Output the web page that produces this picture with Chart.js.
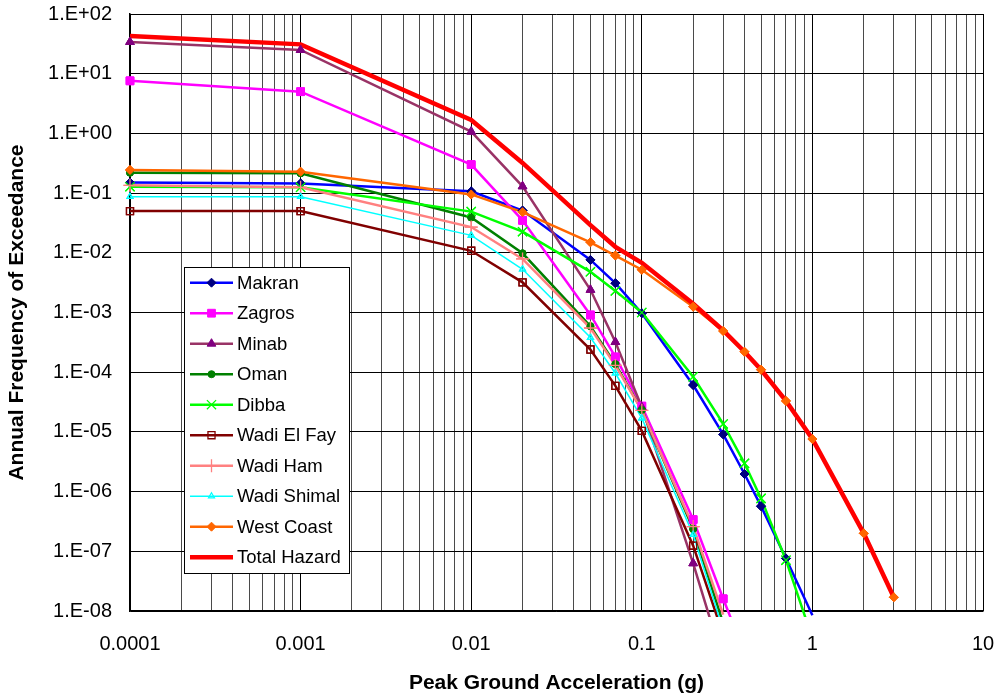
<!DOCTYPE html>
<html>
<head>
<meta charset="utf-8">
<script src="https://cdn.jsdelivr.net/npm/chart.js@4/dist/chart.umd.min.js"></script>
<style>
html,body{margin:0;padding:0;background:#fff;}
#wrap{width:1000px;height:698px;}
</style>
</head>
<body>
<div id="wrap"><canvas id="c" width="1000" height="698"></canvas></div>
<script>
// ---- data ----
const pga = [0.0001, 0.001, 0.01, 0.02, 0.05, 0.07, 0.1, 0.2, 0.3, 0.4, 0.5, 0.7, 1, 2, 3];
const seriesNames = ['Makran','Zagros','Minab','Oman','Dibba','Wadi El Fay','Wadi Ham','Wadi Shimal','West Coast','Total Hazard'];
const makran     = [0.15, 0.145, 0.107, 0.051, 0.0076, 0.0031, 9.7e-4, 6.1e-5, 9.1e-6, 1.97e-6, 5.7e-7, 7.6e-8, 8.5e-9];
const zagros     = [7.6, 5.0, 0.30, 0.035, 9.1e-4, 1.8e-4, 2.7e-5, 3.4e-7, 1.6e-8, 2e-9];
const minab      = [34, 25, 1.07, 0.13, 0.0024, 3.2e-4, 2.6e-5, 6.3e-8, 1.4e-9];
const oman       = [0.22, 0.215, 0.039, 0.0098, 5.9e-4, 1.37e-4, 2.33e-5, 2.36e-7, 6.2e-9];
const dibba      = [0.128, 0.125, 0.049, 0.0226, 0.0048, 0.0023, 0.001, 8.4e-5, 1.36e-5, 2.97e-6, 7.7e-7, 7.1e-8, 3.5e-9];
const wadiElFay  = [0.05, 0.05, 0.0108, 0.0032, 2.4e-4, 5.9e-5, 1.04e-5, 1.24e-7, 4e-9];
const wadiHam    = [0.135, 0.125, 0.027, 0.0079, 5.5e-4, 1.3e-4, 2.3e-5, 2.6e-7, 8.7e-9];
const wadiShimal = [0.087, 0.087, 0.0196, 0.0053, 3.8e-4, 9.6e-5, 1.7e-5, 1.9e-7, 4.8e-9];
const westCoast  = [0.244, 0.228, 0.095, 0.048, 0.015, 0.009, 0.0052, 0.00125, 4.9e-4, 2.2e-4, 1.1e-4, 3.3e-5, 7.6e-6, 2.0e-7, 1.7e-8];
const totalHazard= [43, 31, 1.68, 0.32, 0.029, 0.0126, 0.0068, 0.0014, 5.0e-4, 2.2e-4, 1.1e-4, 3.3e-5, 7.6e-6, 2.0e-7, 1.7e-8];
const xTickValues = [0.0001, 0.001, 0.01, 0.1, 1, 10];
const xTickLabels = ['0.0001', '0.001', '0.01', '0.1', '1', '10'];
const yTickValues = [1e-8, 1e-7, 1e-6, 1e-5, 1e-4, 1e-3, 1e-2, 1e-1, 1e0, 1e1, 1e2];
const yTickLabels = ['1.E-08','1.E-07','1.E-06','1.E-05','1.E-04','1.E-03','1.E-02','1.E-01','1.E+00','1.E+01','1.E+02'];

// ---- styles ----
const allValues = [makran, zagros, minab, oman, dibba, wadiElFay, wadiHam, wadiShimal, westCoast, totalHazard];
const styles = [
  {line:'#0000FF', w:2.5, ps:'rectRot', r:4.5, fill:'#000080', stroke:'#000080', bw:1},
  {line:'#FF00FF', w:2.5, ps:'rect', r:5.5, fill:'#FF00FF', stroke:'#FF00FF', bw:1},
  {line:'#993366', w:2.5, ps:'triangle', r:5, fill:'#800080', stroke:'#800080', bw:1},
  {line:'#008000', w:2.5, ps:'circle', r:3.5, fill:'#008000', stroke:'#008000', bw:1},
  {line:'#00FF00', w:2.5, ps:'crossRot', r:6.5, fill:'#00FF00', stroke:'#00FF00', bw:1.2},
  {line:'#800000', w:2.5, ps:'rect', r:5, fill:'rgba(255,255,255,0)', stroke:'#800000', bw:1.3},
  {line:'#FF8080', w:2.5, ps:'cross', r:6.5, fill:'#FF8080', stroke:'#FF8080', bw:1.3},
  {line:'#00FFFF', w:1.5, ps:'triangle', r:3.5, fill:'rgba(255,255,255,0)', stroke:'#00FFFF', bw:1.2},
  {line:'#FF6600', w:2.5, ps:'rectRot', r:4.5, fill:'#FF6600', stroke:'#FF6600', bw:1},
  {line:'#FF0000', w:4.5, ps:false, r:0, fill:'#FF0000', stroke:'#FF0000', bw:0}
];

const datasets = allValues.map((vals, i) => {
  const st = styles[i];
  return {
    label: seriesNames[i],
    data: vals.map((v, j) => ({x: pga[j], y: v})),
    borderColor: st.line,
    borderWidth: st.w,
    backgroundColor: st.fill,
    pointStyle: st.ps,
    pointRadius: (ctx) => (!st.ps || (ctx.raw && ctx.raw.y < 1e-8)) ? 0 : st.r,
    pointHoverRadius: 0,
    pointBackgroundColor: st.fill,
    pointBorderColor: st.stroke,
    pointBorderWidth: st.bw,
    tension: 0,
    fill: false,
    order: 10 - i,
    clip: {left: 10, top: 10, right: 10, bottom: 6}
  };
});

const isDecade = (v) => Math.abs(Math.log10(v) - Math.round(Math.log10(v))) < 1e-9;

const markersOnTop = {
  id: 'markersOnTop',
  afterDatasetsDraw(chart) {
    const ctx = chart.ctx, a = chart.chartArea;
    ctx.save();
    ctx.beginPath();
    ctx.rect(a.left - 10, a.top - 10, a.right - a.left + 20, a.bottom - a.top + 14);
    ctx.clip();
    chart.data.datasets.forEach((ds, i) => {
      if (!styles[i].ps) return;
      chart.getDatasetMeta(i).data.forEach(p => p.draw(ctx, a));
    });
    ctx.restore();
  }
};

const boxLegend = {
  id: 'boxLegend',
  afterDraw(chart) {
    const ctx = chart.ctx;
    ctx.save();
    const bx = 184.5, by = 267.5, bw = 165, bh = 306;
    ctx.fillStyle = '#fff';
    ctx.fillRect(bx, by, bw, bh);
    ctx.strokeStyle = '#000';
    ctx.lineWidth = 1;
    ctx.strokeRect(bx, by, bw, bh);
    chart.data.datasets.forEach((ds, i) => {
      const st = styles[i];
      const y = 282.7 + i * 30.5;
      ctx.strokeStyle = st.line;
      ctx.lineWidth = st.w;
      ctx.beginPath();
      ctx.moveTo(190, y);
      ctx.lineTo(233, y);
      ctx.stroke();
      if (st.ps) {
        ctx.fillStyle = st.fill;
        ctx.strokeStyle = st.stroke;
        ctx.lineWidth = st.bw;
        Chart.helpers.drawPoint(ctx, {pointStyle: st.ps, radius: st.r, borderWidth: st.bw, rotation: 0}, 211.5, y);
      }
      ctx.fillStyle = '#000';
      ctx.font = "18.5px 'Liberation Sans', Arial, sans-serif";
      ctx.textBaseline = 'middle';
      ctx.textAlign = 'left';
      ctx.fillText(ds.label, 237, y + 1);
    });
    ctx.restore();
  }
};

Chart.defaults.font.family = "'Liberation Sans', Arial, sans-serif";
Chart.defaults.color = '#000';

new Chart(document.getElementById('c'), {
  type: 'line',
  data: {datasets},
  plugins: [markersOnTop, boxLegend],
  options: {
    responsive: false,
    animation: false,
    events: [],
    layout: {padding: {left: 0, right: 17, top: 14, bottom: 0}},
    plugins: {legend: {display: false}, tooltip: {enabled: false}},
    scales: {
      x: {
        type: 'logarithmic',
        min: 0.0001, max: 10,
        afterBuildTicks(s) {
          const t = [];
          xTickValues.forEach(d => { for (let m = 1; m <= 9; m++) { const v = d * m; if (v <= 10 + 1e-9) t.push({value: v}); } });
          s.ticks = t;
        },
        afterFit(s) { s.height = 87; s.paddingLeft = 0; s.paddingRight = 0; },
        ticks: {
          autoSkip: false, maxRotation: 0, minRotation: 0,
          padding: 21,
          font: {size: 20},
          callback: (v) => { const k = xTickValues.findIndex(t => Math.abs(t - v) / t < 1e-6); return k >= 0 ? xTickLabels[k] : ''; }
        },
        grid: {
          drawTicks: false,
          lineWidth: 1,
          color: (c) => (c.tick && isDecade(c.tick.value)) ? '#000' : '#4a4a4a'
        },
        border: {display: true, color: '#000', width: 1.5},
        title: {display: true, text: 'Peak Ground Acceleration (g)', font: {size: 21, weight: 'bold'}, padding: {top: 0, bottom: 2}}
      },
      y: {
        type: 'logarithmic',
        min: 1e-8, max: 100,
        afterBuildTicks(s) { s.ticks = yTickValues.map(v => ({value: v})); },
        afterFit(s) { s.width = 130; s.paddingTop = 0; s.paddingBottom = 0; },
        ticks: {
          autoSkip: false,
          padding: 18,
          font: {size: 20},
          callback: (v) => { const k = yTickValues.findIndex(t => Math.abs(t - v) / t < 1e-6); return k >= 0 ? yTickLabels[k] : ''; }
        },
        grid: {drawTicks: false, lineWidth: 1, color: '#000'},
        border: {display: true, color: '#000', width: 1.5},
        title: {display: true, text: 'Annual Frequency of Exceedance', font: {size: 21, weight: 'bold'}, padding: {top: 5, bottom: 0}}
      }
    }
  }
});
</script>
</body>
</html>
